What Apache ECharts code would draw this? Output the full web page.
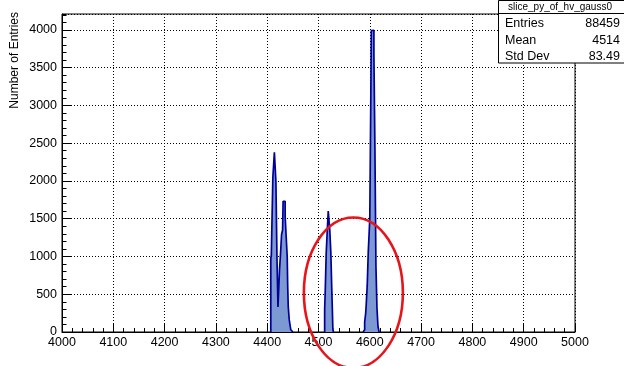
<!DOCTYPE html>
<html>
<head>
<meta charset="utf-8">
<script src="https://cdn.jsdelivr.net/npm/echarts@6/dist/echarts.min.js"></script>
<style>
html,body{margin:0;padding:0;background:#fff;}
#chart{width:624px;height:366px;}
</style>
</head>
<body>
<div id="chart"></div>
<script>
// ---- data (1-unit bins, counts per bin) ----
const histTitle = 'slice_py_of_hv_gauss0';
const yAxisTitle = 'Number of Entries';
const statsLabels = ['Entries', 'Mean', 'Std Dev'];
const statsValues = ['88459', '4514', '83.49'];

// first bin lower edge of each group of non-empty bins
const groupStarts = [4407, 4512, 4587];

// bins 4407 .. 4449 (two overlapping peaks)
const groupACounts = [980, 1010, 1000, 1020, 2040, 2060, 2050, 2380, 2370, 2385,
  1990, 1980, 1000, 990, 330, 335, 325, 820, 830, 1040,
  1050, 1290, 1280, 1350, 1730, 1735, 1740, 1730, 1530, 1520,
  1260, 1250, 1000, 600, 340, 330, 160, 150, 70, 30,
  10, 20, 10];
// bins 4512 .. 4528
const groupBCounts = [300, 510, 520, 1040, 1050, 1330, 1340, 1600, 1607, 1595,
  1350, 1340, 1060, 1050, 540, 300, 40];
// bins 4587 .. 4617
const groupCCounts = [10, 25, 30, 135, 140, 250, 360, 355, 620, 630,
  1060, 1070, 1065, 1500, 1510, 3140, 3990, 4009, 3980, 4000,
  3995, 3680, 3670, 2430, 1620, 865, 860, 315, 310, 70, 40];

// red hand-drawn ellipse annotation (data coordinates of centre, half-axes)
const ellipseCenter = [4568, 520];
const ellipseHalfAxes = [96.5, 995];

const xMin = 4000, xMax = 5000, xStep = 100;
const yMin = 0, yMax = 4210, yStep = 500, yMinorStep = 100;

// ---- build step outline points from the bins ----
function binsToSteps(start, counts) {
  const pts = [[start, 0]];
  counts.forEach(function (c, i) { pts.push([start + i, c]); });
  pts.push([start + counts.length, 0]);
  return pts;
}
const groups = [groupACounts, groupBCounts, groupCCounts];

const fontFam = '"Liberation Sans", Arial, Helvetica, sans-serif';
const plainNum = function (v) { return String(v); };
const chart = echarts.init(document.getElementById('chart'), null, {renderer: 'canvas'});

const series = groups.map(function (counts, gi) {
  return {
    type: 'line',
    xAxisIndex: 0,
    yAxisIndex: 0,
    step: 'end',
    symbol: 'none',
    data: binsToSteps(groupStarts[gi], counts),
    lineStyle: {color: '#000099', width: 1.7},
    areaStyle: {color: '#7d99d1', opacity: 1},
    emphasis: {disabled: true},
    silent: true
  };
});

const option = {
  animation: false,
  backgroundColor: '#ffffff',
  grid: {
    left: 62, right: 49, top: 14, bottom: 34,
    show: true, borderColor: '#000', borderWidth: 1,
    containLabel: false, outerBoundsMode: 'none'
  },
  xAxis: {
    type: 'value', min: xMin, max: xMax, interval: xStep,
    axisLine: {show: true, onZero: false, lineStyle: {color: '#000', width: 1}},
    axisTick: {show: true, inside: true, length: 8, lineStyle: {color: '#000', width: 1}},
    minorTick: {show: true, splitNumber: 5, length: 4, lineStyle: {color: '#000', width: 1}},
    axisLabel: {color: '#000', fontSize: 12.5, fontFamily: fontFam, margin: 4, formatter: plainNum},
    splitLine: {show: true, lineStyle: {color: '#000', width: 1, type: [1, 2]}}
  },
  yAxis: [
    {
      type: 'value', min: yMin, max: yMax, interval: yStep, position: 'left',
      axisLine: {show: true, onZero: false, lineStyle: {color: '#000', width: 1}},
      axisTick: {show: true, inside: true, length: 9, lineStyle: {color: '#000', width: 1}},
      axisLabel: {color: '#000', fontSize: 12.5, fontFamily: fontFam, margin: 5, showMaxLabel: false, formatter: plainNum},
      splitLine: {show: true, lineStyle: {color: '#000', width: 1, type: [1, 2]}}
    },
    {
      type: 'value', min: yMin, max: yMax, interval: yMinorStep, position: 'left', offset: 0,
      axisLine: {show: false},
      axisTick: {show: true, inside: true, length: 4.5, lineStyle: {color: '#000', width: 1}},
      axisLabel: {show: false},
      splitLine: {show: false}
    }
  ],
  series: series
};
chart.setOption(option);

// ---- annotations: stats box, y title, red ellipse ----
const c = chart.convertToPixel({xAxisIndex: 0, yAxisIndex: 0}, ellipseCenter);
const e = chart.convertToPixel({xAxisIndex: 0, yAxisIndex: 0},
  [ellipseCenter[0] + ellipseHalfAxes[0], ellipseCenter[1] + ellipseHalfAxes[1]]);
const rx = Math.abs(e[0] - c[0]);
const ry = Math.abs(e[1] - c[1]);

const statRowsY = [24, 40.5, 57];
const graphics = [
  {
    type: 'text', x: 15, y: 12, rotation: Math.PI / 2, z: 50,
    style: {text: yAxisTitle, fill: '#000', font: '12px ' + fontFam, align: 'right', verticalAlign: 'middle'}
  },
  {
    type: 'rect', z: 100,
    shape: {x: 498.5, y: 0.5, width: 130, height: 62.5},
    style: {fill: '#fff', stroke: '#000', lineWidth: 1}
  },
  {
    type: 'line', z: 101,
    shape: {x1: 498.5, y1: 13.5, x2: 630, y2: 13.5},
    style: {stroke: '#000', lineWidth: 1}
  },
  {
    type: 'text', x: 560, y: 7, z: 102,
    style: {text: histTitle, fill: '#000', font: '10px ' + fontFam, align: 'center', verticalAlign: 'middle'}
  }
];
statsLabels.forEach(function (lab, i) {
  graphics.push({
    type: 'text', x: 505, y: statRowsY[i], z: 102,
    style: {text: lab, fill: '#000', font: '12.5px ' + fontFam, align: 'left', verticalAlign: 'middle'}
  });
  graphics.push({
    type: 'text', x: 620, y: statRowsY[i], z: 102,
    style: {text: statsValues[i], fill: '#000', font: '12.5px ' + fontFam, align: 'right', verticalAlign: 'middle'}
  });
});
graphics.push({
  type: 'ellipse', z: 120,
  shape: {cx: c[0], cy: c[1], rx: rx, ry: ry},
  style: {fill: 'none', stroke: '#e8141b', lineWidth: 2.6}
});

chart.setOption({graphic: graphics});
</script>
</body>
</html>
